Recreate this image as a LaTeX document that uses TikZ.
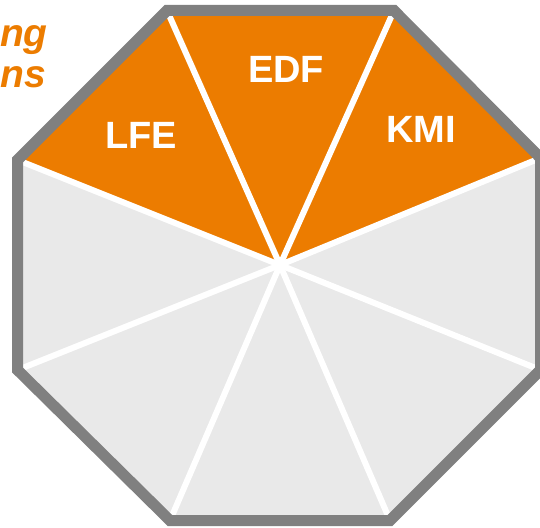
\documentclass[tikz,border=0pt]{standalone}
\usepackage{fontspec}
\setmainfont{Liberation Sans}
\usepackage{tikz}
\usetikzlibrary{positioning,calc}
\definecolor{octorange}{RGB}{236,124,0}
\definecolor{octgray}{RGB}{128,128,128}
\definecolor{octlight}{RGB}{233,233,233}
\tikzset{
  octsector/.style={fill=octlight, draw=none},
  octsectorhot/.style={fill=octorange, draw=none},
  octspoke/.style={draw=white, line width=6pt},
  octborder/.style={draw=octgray, line width=11pt, line join=miter},
  octlabel/.style={text=white, font=\fontsize{38}{40}\selectfont\bfseries, inner sep=0pt},
  octhead/.style={text=octorange, font=\fontsize{39}{40}\selectfont\bfseries\itshape, inner sep=0pt},
}

\begin{document}
\begin{tikzpicture}[x=1pt,y=-1pt]
	\useasboundingbox (0,0) rectangle (540,527);

	% Octagon corners (clockwise from top left) and centre
	\coordinate (c) at (280,265);
	\coordinate (v1) at (167,10.5);
	\coordinate (v2) at (394,10.5);
	\coordinate (v3) at (540.5,158);
	\coordinate (v4) at (540.5,370);
	\coordinate (v5) at (390,520.5);
	\coordinate (v6) at (170,520.5);
	\coordinate (v7) at (17.5,370);
	\coordinate (v8) at (17.5,160);

	% Sectors
	\fill[octsector] (v1) -- (v2) -- (v3) -- (v4) -- (v5) -- (v6) -- (v7) -- (v8) -- cycle;
	\fill[octsectorhot] (c) -- (v8) -- (v1) -- (v2) -- (v3) -- cycle;

	% Spokes
	\foreach \v in {v1,v2,v3,v4,v5,v6,v7,v8}
		\draw[octspoke] (c) -- (\v);

	% Border
	\draw[octborder] (v1) -- (v2) -- (v3) -- (v4) -- (v5) -- (v6) -- (v7) -- (v8) -- cycle;

	% Labels
	\node[octlabel] (lfe) at (141,135) {LFE};
	\node[octlabel] (edf) at (286,69) {EDF};
	\node[octlabel] (kmi) at (421,129) {KMI};

	% Heading, cut at the left edge
	\node[octhead, anchor=base east] (headtop) at (48,47) {ng};
	\node[octhead, anchor=base east] (headbot) at (46,87) {ns};
\end{tikzpicture}
\end{document}
